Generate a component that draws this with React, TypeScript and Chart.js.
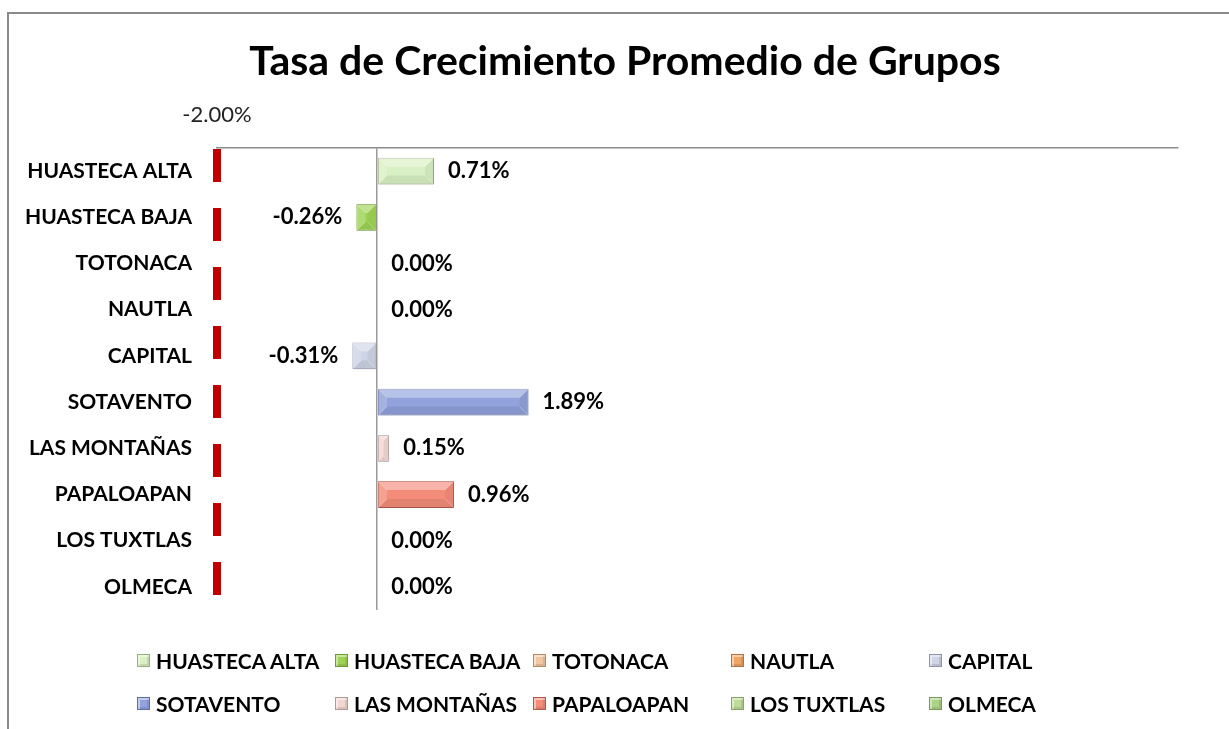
import React, { useEffect, useRef } from "react";
import { Chart, registerables } from "chart.js";

Chart.register(...registerables);

const categories = [
  "HUASTECA ALTA",
  "HUASTECA BAJA",
  "TOTONACA",
  "NAUTLA",
  "CAPITAL",
  "SOTAVENTO",
  "LAS MONTAÑAS",
  "PAPALOAPAN",
  "LOS TUXTLAS",
  "OLMECA",
];
const values = [0.71, -0.26, 0.0, 0.0, -0.31, 1.89, 0.15, 0.96, 0.0, 0.0];
const fillColors = [
  "#d9f0c4",
  "#9ed454",
  "#f2c6a2",
  "#f0a466",
  "#cfd4e6",
  "#91a2dc",
  "#f2d6d2",
  "#f48c7a",
  "#bcdc98",
  "#aed286",
];
const edgeColors = [
  "#98ad80",
  "#6e9a34",
  "#b48a68",
  "#b07440",
  "#8f94a8",
  "#5f6ea4",
  "#b09a96",
  "#b05a4c",
  "#86a468",
  "#7c9a5e",
];
const axisMin = -2;
const axisMax = 10;
const tickValues = [-2];
const tickLabels = ["-2.00%"];
const titleText = "Tasa de Crecimiento Promedio de Grupos";

const FONT = "Lato, 'Open Sans', sans-serif";

const bevelPlugin = {
  id: "bevel",
  afterDatasetsDraw(chart: any) {
    const ctx = chart.ctx;
    chart.data.datasets.forEach((_ds: any, di: number) => {
      const meta = chart.getDatasetMeta(di);
      meta.data.forEach((el: any) => {
        const p = el.getProps(["x", "y", "base", "height"], true);
        const l = Math.min(p.x, p.base);
        const r = Math.max(p.x, p.base);
        const t = p.y - p.height / 2;
        const b = p.y + p.height / 2;
        const w = r - l;
        const h = b - t;
        if (w < 1) return;
        const bv = Math.min(9, w / 2, h / 2);
        const poly = (pts: number[][], color: string) => {
          ctx.beginPath();
          ctx.moveTo(pts[0][0], pts[0][1]);
          for (let i = 1; i < pts.length; i++) ctx.lineTo(pts[i][0], pts[i][1]);
          ctx.closePath();
          ctx.fillStyle = color;
          ctx.fill();
        };
        ctx.save();
        poly([[l, t], [r, t], [r - bv, t + bv], [l + bv, t + bv]], "rgba(255,255,255,0.35)");
        poly([[l, b], [r, b], [r - bv, b - bv], [l + bv, b - bv]], "rgba(0,0,0,0.07)");
        poly([[l, t], [l + bv, t + bv], [l + bv, b - bv], [l, b]], "rgba(255,255,255,0.18)");
        poly([[r, t], [r - bv, t + bv], [r - bv, b - bv], [r, b]], "rgba(0,0,0,0.05)");
        ctx.strokeStyle = "rgba(255,255,255,0.35)";
        ctx.lineWidth = 0.8;
        ctx.beginPath();
        ctx.moveTo(l, t); ctx.lineTo(l + bv, t + bv);
        ctx.moveTo(r, t); ctx.lineTo(r - bv, t + bv);
        ctx.moveTo(l, b); ctx.lineTo(l + bv, b - bv);
        ctx.moveTo(r, b); ctx.lineTo(r - bv, b - bv);
        ctx.stroke();
        ctx.restore();
      });
    });
  },
};

const axisDashPlugin = {
  id: "axisDash",
  beforeDatasetsDraw(chart: any) {
    const { ctx, chartArea } = chart;
    ctx.save();
    ctx.strokeStyle = "#c00000";
    ctx.lineWidth = 8;
    ctx.setLineDash([33, 26]);
    ctx.beginPath();
    ctx.moveTo(chartArea.left, chartArea.top + 1);
    ctx.lineTo(chartArea.left, chartArea.bottom);
    ctx.stroke();
    ctx.restore();
  },
};

const valueLabelPlugin = {
  id: "valueLabels",
  afterDatasetsDraw(chart: any) {
    const ctx = chart.ctx;
    const meta = chart.getDatasetMeta(0);
    ctx.save();
    ctx.font = `bold 22px ${FONT}`;
    ctx.fillStyle = "#000";
    ctx.textBaseline = "middle";
    meta.data.forEach((el: any, i: number) => {
      const v = values[i];
      const p = el.getProps(["x", "y", "base"], true);
      const txt = v.toFixed(2) + "%";
      if (v < 0) {
        ctx.textAlign = "right";
        ctx.fillText(txt, Math.min(p.x, p.base) - 14, p.y);
      } else {
        ctx.textAlign = "left";
        ctx.fillText(txt, Math.max(p.x, p.base) + 14, p.y);
      }
    });
    ctx.restore();
  },
};

function ChartCanvas() {
  const ref = useRef<HTMLCanvasElement>(null);
  useEffect(() => {
    if (!ref.current) return;
    const chart = new Chart(ref.current, {
      type: "bar",
      data: {
        labels: categories,
        datasets: [
          {
            label: "Tasa",
            data: values,
            backgroundColor: fillColors,
            borderColor: edgeColors,
            borderWidth: 1,
            borderSkipped: false,
            barPercentage: 0.58,
            categoryPercentage: 1,
          },
        ],
      },
      options: {
        indexAxis: "y",
        responsive: false,
        animation: false,
        layout: { padding: { left: 0, right: 51, top: 91.2, bottom: 119 } },
        plugins: {
          legend: { display: false },
          tooltip: { enabled: false },
          title: { display: false },
        },
        scales: {
          x: {
            type: "linear",
            position: "top",
            min: axisMin,
            max: axisMax,
            afterBuildTicks: (s: any) => {
              const arr = [];
              for (let v = axisMin; v <= axisMax; v += 1) arr.push({ value: v });
              s.ticks = arr;
            },
            afterFit: (s: any) => {
              s.height = 56.8;
            },
            ticks: {
              autoSkip: false,
              maxRotation: 0,
              padding: 20,
              color: "#222",
              font: { family: FONT, size: 22 },
              callback: (v: any) => {
                const idx = tickValues.indexOf(Number(v));
                return idx >= 0 ? tickLabels[idx] : "";
              },
            },
            grid: {
              drawTicks: false,
              lineWidth: 1.5,
              color: (c: any) => (c.tick && c.tick.value === 0 ? "#9a9a9a" : "rgba(0,0,0,0)"),
            },
            border: { display: true, color: "#8c8c8c", width: 1.5 },
          },
          y: {
            type: "category",
            afterFit: (s: any) => {
              s.width = 217;
            },
            ticks: {
              padding: 25,
              color: "#000",
              font: { family: FONT, size: 21, weight: "bold" },
            },
            grid: { display: false, drawTicks: false },
            border: { display: false },
          },
        },
      } as any,
      plugins: [axisDashPlugin, bevelPlugin, valueLabelPlugin],
    });
    return () => chart.destroy();
  }, []);
  return <canvas ref={ref} width={1229} height={729} style={{ position: "absolute", left: 0, top: 0 }} />;
}

const legendCols = [137, 335, 533, 731, 929];
const legendRows = [660, 703];

export default function App() {
  return (
    <div
      style={{
        position: "fixed",
        left: 0,
        top: 0,
        width: 1229,
        height: 729,
        overflow: "hidden",
        background: "#fff",
      }}
    >
      <div
        style={{
          position: "absolute",
          left: 7,
          top: 12,
          width: 1300,
          height: 800,
          border: "2px solid #8a8a8a",
          boxSizing: "border-box",
        }}
      />
      <ChartCanvas />
      <div
        style={{
          position: "absolute",
          left: 0,
          top: 36,
          width: 1250,
          height: 48,
          lineHeight: "48px",
          textAlign: "center",
          fontFamily: FONT,
          fontWeight: "bold",
          fontSize: 41,
          color: "#000",
          whiteSpace: "nowrap",
        }}
      >
        {titleText}
      </div>
      {categories.map((c, i) => {
        const col = legendCols[i % 5];
        const row = legendRows[Math.floor(i / 5)];
        return (
          <div
            key={c}
            style={{
              position: "absolute",
              left: col,
              top: row - 12,
              height: 24,
              display: "flex",
              alignItems: "center",
              fontFamily: FONT,
              fontWeight: "bold",
              fontSize: 21,
              color: "#000",
              whiteSpace: "nowrap",
            }}
          >
            <span
              style={{
                display: "inline-block",
                width: 13,
                height: 13,
                marginRight: 6,
                background: fillColors[i],
                border: `1px solid ${edgeColors[i]}`,
                boxSizing: "border-box",
                boxShadow: "inset 2px 2px 0 rgba(255,255,255,0.45), inset -2px -2px 0 rgba(0,0,0,0.10)",
              }}
            />
            {c}
          </div>
        );
      })}
    </div>
  );
}
